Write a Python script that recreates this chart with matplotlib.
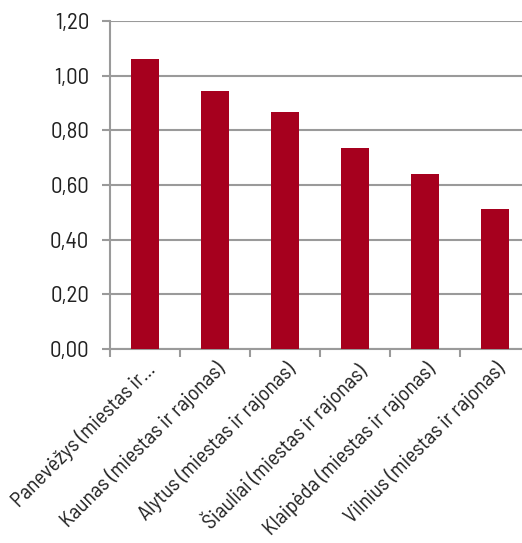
import matplotlib.pyplot as plt
from matplotlib.ticker import FuncFormatter

plt.rcParams['font.family'] = ['Barlow Semi Condensed', 'DejaVu Sans']

labels = ["Panevėžys (miestas ir...", "Kaunas (miestas ir rajonas)",
          "Alytus (miestas ir rajonas)", "Šiauliai (miestas ir rajonas)",
          "Klaipėda (miestas ir rajonas)", "Vilnius (miestas ir rajonas)"]
values = [1.06, 0.945, 0.867, 0.735, 0.64, 0.512]
yticks = [0, 0.2, 0.4, 0.6, 0.8, 1.0, 1.2]

fig = plt.figure(figsize=(5.22, 5.43), dpi=100)
ax = fig.add_axes([110 / 522, 194 / 543, 420 / 522, 328 / 543])

grid_col = '#9a9a9a'
x = range(len(values))
ax.bar(x, values, width=0.4, color='#a6001e', zorder=3)

ax.set_xlim(-0.5, len(values) - 0.5)
ax.set_ylim(0, 1.2)
ax.set_yticks(yticks)
ax.yaxis.set_major_formatter(FuncFormatter(lambda v, p: f"{v:.2f}".replace('.', ',')))
ax.set_xticks([i - 0.5 for i in range(len(values) + 1)], minor=False)
ax.set_xticklabels([])
ax.set_xticks(list(x), minor=True)
ax.set_xticklabels(labels, minor=True, rotation=45, ha='right', va='top',
                   rotation_mode='anchor', fontsize=15.5, color='#222222')
ax.tick_params(axis='x', which='minor', length=0, pad=7)
ax.tick_params(axis='x', which='major', length=6, color=grid_col, width=1.5)
ax.tick_params(axis='y', length=6, color=grid_col, width=1.5, labelsize=16.5,
               labelcolor='#222222', pad=9)

ax.grid(axis='y', color=grid_col, linewidth=1.5, zorder=0)
for s in ['top', 'right']:
    ax.spines[s].set_visible(False)
for s in ['left', 'bottom']:
    ax.spines[s].set_color(grid_col)
    ax.spines[s].set_linewidth(1.5)

fig.savefig('out.png', dpi=100)
